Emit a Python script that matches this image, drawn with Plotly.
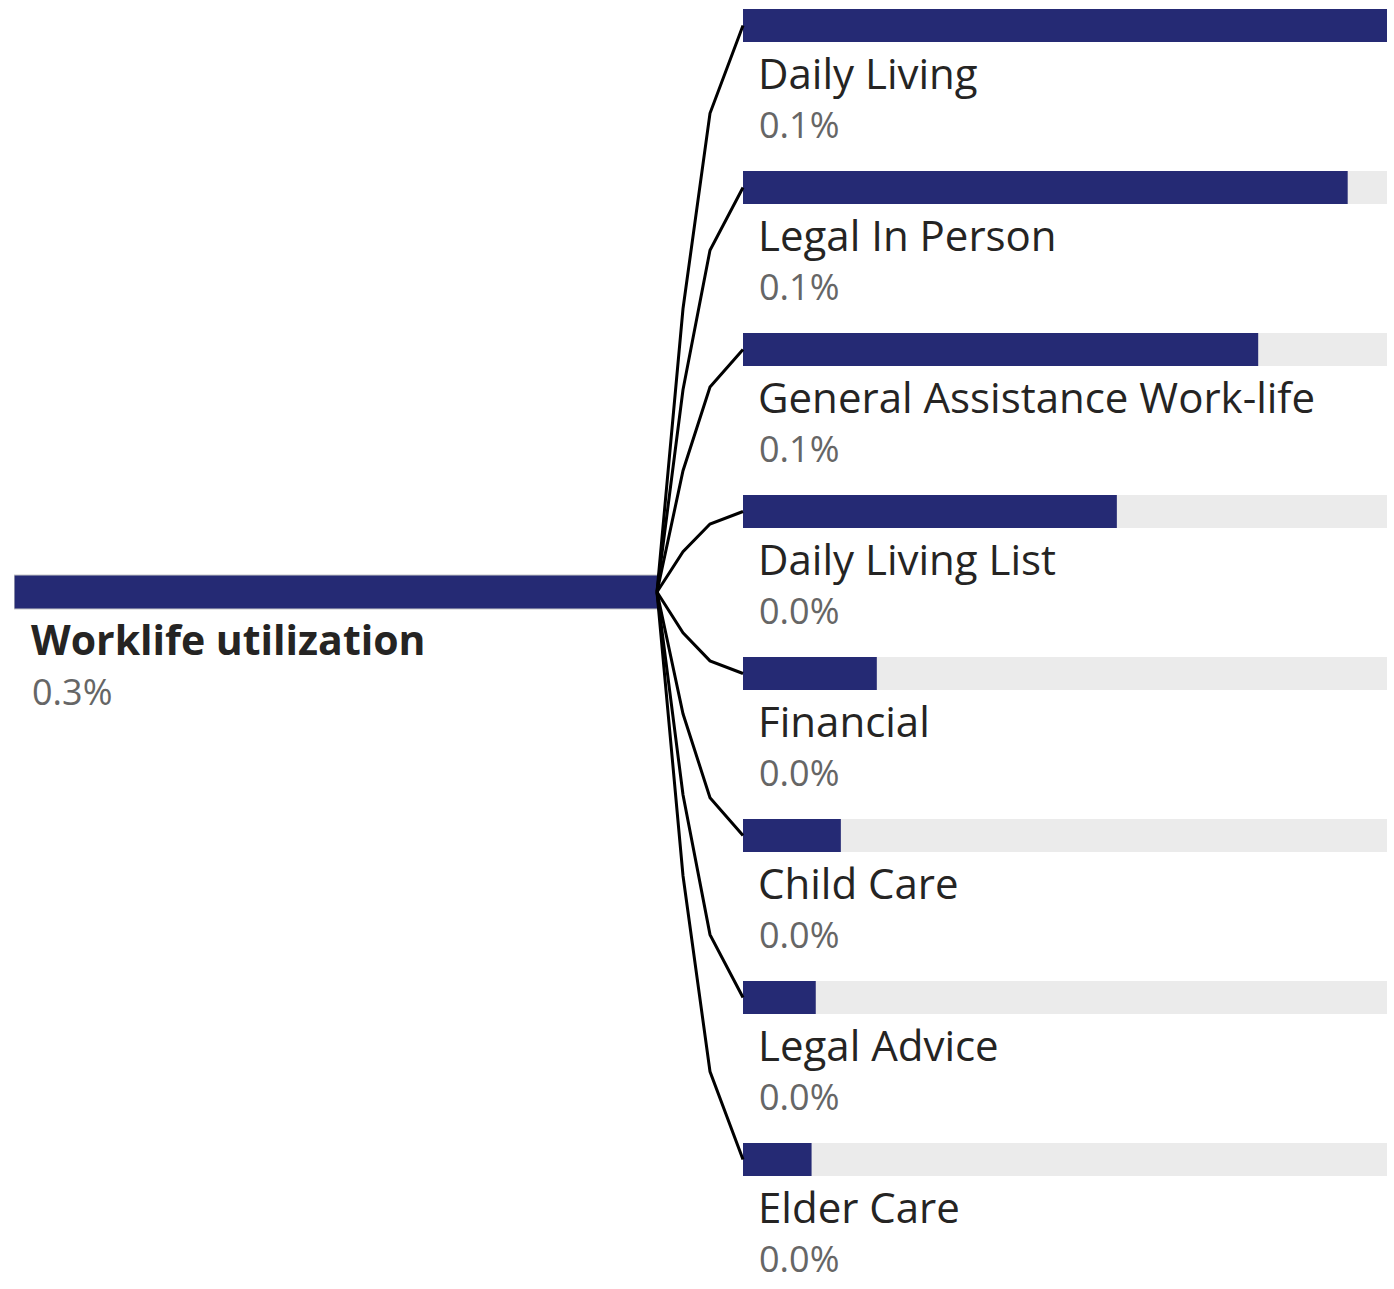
import plotly.graph_objects as go

# Decomposition tree: overall worklife utilization split by service category
root_label = "Worklife utilization"
categories = [
    "Daily Living",
    "Legal In Person",
    "General Assistance Work-life",
    "Daily Living List",
    "Financial",
    "Child Care",
    "Legal Advice",
    "Elder Care",
]
utilization_pct = [0.077, 0.0723, 0.0616, 0.0447, 0.016, 0.0117, 0.0087, 0.0082]
total_pct = sum(utilization_pct)

# ---- layout constants (pixels) ----
W, H = 1394, 1289
ROOT_X0, ROOT_X1 = 14, 659
CHILD_X0, CHILD_X1 = 743, 1387
ROOT_Y = 592
ROW0_Y, ROW_STEP = 25.5, 162
BAR_H = 33
LABEL_DY, VALUE_DY = 47, 99

BAR_COLOR = "#252A74"
TRACK_COLOR = "#EBEBEB"
LABEL_COLOR = "#252423"
VALUE_COLOR = "#666666"
FONT = "Open Sans, Noto Sans, sans-serif"

row_y = [ROW0_Y + ROW_STEP * i for i in range(len(categories))]
max_child = max(utilization_pct)

fig = go.Figure()

# root bar
fig.add_trace(go.Bar(
    x=[total_pct], y=[ROOT_Y], orientation="h", width=BAR_H + 1,
    marker=dict(color=BAR_COLOR, line=dict(color="#C8C8C8", width=1.2)),
    xaxis="x", yaxis="y", showlegend=False, hoverinfo="skip",
))

# child tracks and value bars
fig.add_trace(go.Bar(
    x=[max_child] * len(categories), y=row_y, orientation="h", width=BAR_H,
    marker=dict(color=TRACK_COLOR, line=dict(width=0)),
    xaxis="x2", yaxis="y", showlegend=False, hoverinfo="skip",
))
fig.add_trace(go.Bar(
    x=utilization_pct, y=row_y, orientation="h", width=BAR_H,
    marker=dict(color=BAR_COLOR, line=dict(width=0)),
    xaxis="x2", yaxis="y", showlegend=False,
    customdata=categories,
    hovertemplate="%{customdata}: %{x:.3f}%<extra></extra>",
))

# connector lines from the root node to each child node (pixel frame)
for yc in row_y:
    d = ROOT_Y - yc
    fig.add_trace(go.Scatter(
        x=[CHILD_X0, 710, 683, ROOT_X1 - 2],
        y=[yc, yc + 0.155 * d, yc + 0.5 * d, ROOT_Y],
        mode="lines", line=dict(color="black", width=3),
        xaxis="x3", yaxis="y", hoverinfo="skip", showlegend=False,
    ))

annotations = [
    dict(x=29, y=ROOT_Y + LABEL_DY, text=f"<b>{root_label}</b>",
         font=dict(size=41, color=LABEL_COLOR, family=FONT)),
    dict(x=30, y=ROOT_Y + VALUE_DY, text=f"{total_pct:.1f}%",
         font=dict(size=36, color=VALUE_COLOR, family=FONT)),
]
for name, val, yc in zip(categories, utilization_pct, row_y):
    annotations.append(dict(x=756, y=yc + LABEL_DY, text=name,
                            font=dict(size=42, color=LABEL_COLOR, family=FONT)))
    annotations.append(dict(x=757, y=yc + VALUE_DY, text=f"{val:.1f}%",
                            font=dict(size=36, color=VALUE_COLOR, family=FONT)))
for a in annotations:
    a.update(xref="x3", yref="y", xanchor="left", yanchor="middle",
             showarrow=False)

hidden = dict(visible=False, fixedrange=True, showgrid=False, zeroline=False)
fig.update_layout(
    width=W, height=H,
    margin=dict(l=0, r=0, t=0, b=0),
    paper_bgcolor="white", plot_bgcolor="rgba(0,0,0,0)",
    barmode="overlay",
    xaxis=dict(domain=[ROOT_X0 / W, ROOT_X1 / W], range=[0, total_pct], **hidden),
    xaxis2=dict(domain=[CHILD_X0 / W, CHILD_X1 / W], range=[0, max_child],
                anchor="y", **hidden),
    xaxis3=dict(domain=[0, 1], range=[0, W], anchor="y", **hidden),
    yaxis=dict(range=[H, 0], **hidden),
    annotations=annotations,
)

fig.write_html("out.html")
